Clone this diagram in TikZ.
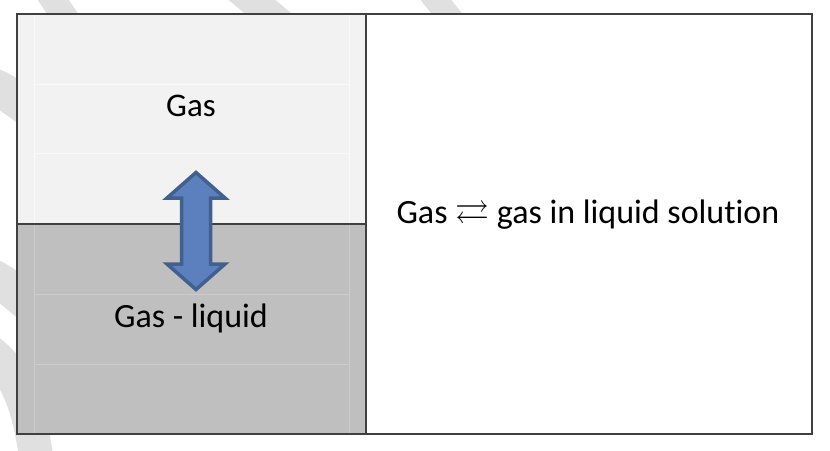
\documentclass[tikz,border=0pt]{standalone}
\usepackage{amssymb}
\usepackage{fontspec}
\setmainfont{Carlito}[RawFeature=-liga]
\definecolor{gasfill}{HTML}{F2F2F2}
\definecolor{liquidfill}{HTML}{BFBFBF}
\definecolor{boxline}{HTML}{404040}
\definecolor{arrowfill}{HTML}{5B80BD}
\definecolor{arrowline}{HTML}{41608F}
\definecolor{swoosh}{HTML}{E0E0E0}

\begin{document}
\begin{tikzpicture}[x=1pt, y=-1pt,
    labeltext/.style={font=\fontsize{34}{40}\selectfont, anchor=base, inner sep=0pt},
    frame/.style={boxline, line width=2pt}]
    \useasboundingbox (0,0) rectangle (830,450);
    % Faint swooshes behind the table.
        \draw[swoosh, line width=26pt] (40,-20) -- (80,40);
        \draw[swoosh, line width=30pt] (228,-20) -- (300,40);
        \draw[swoosh, line width=24pt] (420,-20) -- (468,40);
        \draw[swoosh, line width=36pt] (-20,82) .. controls (0,88) .. (30,110);
        \draw[swoosh, line width=36pt] (-20,272) .. controls (0,280) .. (30,305);
        \draw[swoosh, line width=34pt] (-20,345) .. controls (20,370) and (30,410) .. (38,470);
    % The two cells on the left and the one on the right.
        \fill[gasfill] (17,14) rectangle (366,224);
        \fill[liquidfill] (17,224) rectangle (366,434);
        \fill[white] (366,14) rectangle (812,434);
    % Faint grid inside the left cells.
        \draw[white!50!gasfill, line width=0.8pt] (34,14) -- (34,224) (349,14) -- (349,224)
            (34,84) -- (349,84) (34,153) -- (349,153);
        \draw[white!20!liquidfill, line width=0.8pt] (34,224) -- (34,434) (349,224) -- (349,434)
            (34,294) -- (349,294) (34,364) -- (349,364);
    % Borders.
        \draw[frame] (17,14) rectangle (812,434);
        \draw[frame] (366,14) -- (366,434);
        \draw[frame] (17,224) -- (366,224);
    % Below nodes are the labels.
        \node[labeltext, font=\fontsize{33}{40}\selectfont] (gas) at (191,116) {Gas};
        \node[labeltext] (liquid) at (191,327) {Gas - liquid};
        \node[labeltext] (equilibrium) at (588,223) {Gas $\rightleftarrows$ gas in liquid solution};
    % This draws the double arrow.
        \draw[arrowline, fill=arrowfill, line width=3.5pt, line join=miter]
            (196,172.5) -- (225,198) -- (210.5,198) -- (210.5,264) -- (225,264) -- (196,289.5)
            -- (167,264) -- (181.5,264) -- (181.5,198) -- (167,198) -- cycle;
\end{tikzpicture}
\end{document}
